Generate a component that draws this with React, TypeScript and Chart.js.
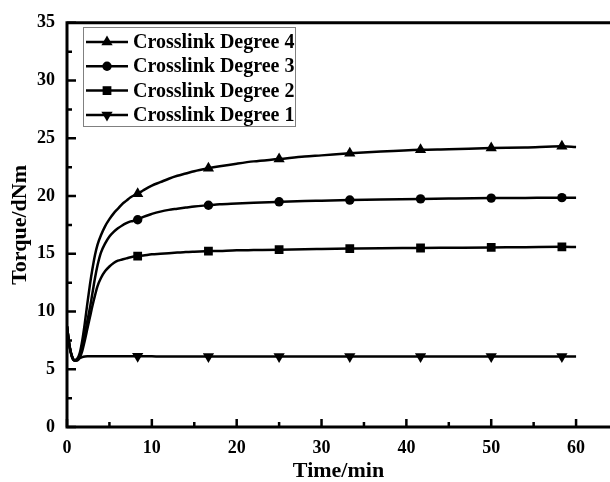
import React, { useEffect, useRef } from 'react';
import { Chart, registerables } from 'chart.js';
import { drawPoint } from 'chart.js/helpers';

Chart.register(...registerables);

const time = [0, 0.3, 0.6, 0.9, 1.2, 1.5, 1.8, 2.1, 2.4, 2.7, 3.0, 3.3, 3.6, 4.0, 4.5, 5.0, 5.5, 6.0, 6.5, 7.0, 7.5, 8.33, 9, 10, 11, 12, 13, 14, 15, 16.67, 18, 20, 22, 25, 28, 30, 33.33, 37, 41.67, 45, 50, 54, 58.33, 60];

const degree4 = [8.7, 7.0, 6.1, 5.8, 5.9, 6.4, 7.5, 9.0, 10.7, 12.3, 13.7, 14.9, 15.8, 16.6, 17.4, 18.0, 18.5, 18.9, 19.3, 19.6, 19.9, 20.2, 20.5, 20.9, 21.2, 21.5, 21.75, 21.95, 22.15, 22.4, 22.57, 22.8, 23.0, 23.2, 23.42, 23.52, 23.7, 23.85, 24.0, 24.05, 24.15, 24.2, 24.3, 24.25];
const degree3 = [8.7, 7.0, 6.1, 5.75, 5.8, 6.1, 6.9, 8.0, 9.2, 10.3, 11.6, 12.9, 14.0, 15.1, 15.9, 16.5, 16.9, 17.2, 17.45, 17.65, 17.8, 17.95, 18.2, 18.45, 18.65, 18.8, 18.9, 19.0, 19.1, 19.2, 19.28, 19.35, 19.42, 19.5, 19.57, 19.6, 19.65, 19.7, 19.75, 19.78, 19.82, 19.84, 19.86, 19.86];
const degree2 = [8.7, 7.0, 6.1, 5.75, 5.75, 6.0, 6.6, 7.5, 8.5, 9.5, 10.5, 11.4, 12.2, 12.9, 13.5, 13.9, 14.2, 14.4, 14.5, 14.6, 14.7, 14.8, 14.85, 14.95, 15.0, 15.05, 15.1, 15.15, 15.18, 15.22, 15.25, 15.3, 15.32, 15.35, 15.4, 15.42, 15.45, 15.48, 15.5, 15.52, 15.55, 15.57, 15.6, 15.58];
const degree1 = [8.7, 7.0, 6.0, 5.75, 5.8, 5.95, 6.05, 6.1, 6.12, 6.12, 6.12, 6.12, 6.12, 6.12, 6.12, 6.12, 6.12, 6.12, 6.12, 6.12, 6.12, 6.12, 6.12, 6.12, 6.11, 6.11, 6.11, 6.11, 6.11, 6.1, 6.1, 6.1, 6.1, 6.1, 6.1, 6.1, 6.1, 6.1, 6.1, 6.1, 6.1, 6.1, 6.1, 6.1];

const seriesLabels = ['Crosslink Degree 4', 'Crosslink Degree 3', 'Crosslink Degree 2', 'Crosslink Degree 1'];
const markerTimes = [8.33, 16.67, 25, 33.33, 41.67, 50, 58.33];
const xTicks = [0, 5, 10, 15, 20, 25, 30, 35, 40, 45, 50, 55, 60];
const yTicks = [0, 2.5, 5, 7.5, 10, 12.5, 15, 17.5, 20, 22.5, 25, 27.5, 30, 32.5, 35];
const xTitle = 'Time/min';
const yTitle = 'Torque/dNm';

const FONT = "'Liberation Serif', 'Times New Roman', serif";

const styles = [
  { pointStyle: 'triangle', rotation: 0, radius: 6.5 },
  { pointStyle: 'circle', rotation: 0, radius: 4.7 },
  { pointStyle: 'rect', rotation: 0, radius: 6.2 },
  { pointStyle: 'triangle', rotation: 180, radius: 6.5 },
];

const axesPlugin = {
  id: 'customAxes',
  afterDatasetsDraw(chart: any) {
    const { ctx, chartArea, scales } = chart;
    const { left, right, top, bottom } = chartArea;
    const xs = scales.x;
    const ys = scales.y;
    ctx.save();
    ctx.strokeStyle = '#000';
    ctx.lineWidth = 3;
    ctx.lineCap = 'butt';
    ctx.beginPath();
    ctx.moveTo(left, top - 1.5);
    ctx.lineTo(left, bottom + 1.5);
    ctx.moveTo(left - 1.5, bottom);
    ctx.lineTo(right, bottom);
    ctx.moveTo(left - 1.5, top);
    ctx.lineTo(right, top);
    ctx.stroke();

    ctx.lineWidth = 2.5;
    ctx.beginPath();
    xTicks.forEach((v) => {
      const px = xs.getPixelForValue(v);
      const len = v % 10 === 0 ? 8 : 5;
      ctx.moveTo(px, bottom);
      ctx.lineTo(px, bottom - len);
    });
    yTicks.forEach((v) => {
      const py = ys.getPixelForValue(v);
      const len = v % 5 === 0 ? 9 : 5;
      ctx.moveTo(left, py);
      ctx.lineTo(left + len, py);
    });
    ctx.stroke();

    // titles
    ctx.fillStyle = '#000';
    ctx.font = `bold 22px ${FONT}`;
    ctx.textAlign = 'center';
    ctx.textBaseline = 'middle';
    ctx.fillText(xTitle, (left + right) / 2, 471);
    ctx.save();
    ctx.translate(20, (top + bottom) / 2);
    ctx.rotate(-Math.PI / 2);
    ctx.fillText(yTitle, 0, 0);
    ctx.restore();

    // legend
    const bx = 83.5, by = 27.5, bw = 212, bh = 99;
    ctx.strokeStyle = '#808080';
    ctx.lineWidth = 1;
    ctx.strokeRect(bx, by, bw, bh);
    chart.data.datasets.forEach((ds: any, i: number) => {
      const ry = 42 + i * 24.3;
      ctx.strokeStyle = '#000';
      ctx.lineWidth = 2.5;
      ctx.beginPath();
      ctx.moveTo(86, ry);
      ctx.lineTo(128, ry);
      ctx.stroke();
      ctx.fillStyle = '#000';
      drawPoint(ctx, { pointStyle: styles[i].pointStyle, rotation: styles[i].rotation, radius: styles[i].radius, borderWidth: 0 } as any, 107, ry);
      ctx.fillStyle = '#000';
      ctx.font = `bold 20px ${FONT}`;
      ctx.textAlign = 'left';
      ctx.textBaseline = 'middle';
      ctx.fillText(ds.label, 133, ry + 1);
    });
    ctx.restore();
  },
};

export default function App() {
  const canvasRef = useRef<HTMLCanvasElement | null>(null);
  useEffect(() => {
    if (!canvasRef.current) return;
    const all = [degree4, degree3, degree2, degree1];
    const chart = new Chart(canvasRef.current, {
      type: 'line',
      data: {
        datasets: all.map((vals, i) => ({
          label: seriesLabels[i],
          data: time.map((t, j) => ({ x: t, y: vals[j] })),
          borderColor: '#000',
          backgroundColor: '#000',
          borderWidth: 2.5,
          pointStyle: styles[i].pointStyle as any,
          rotation: styles[i].rotation,
          pointRadius: (c: any) => (markerTimes.includes(time[c.dataIndex]) ? styles[i].radius : 0),
          pointHoverRadius: 0,
          pointBackgroundColor: '#000',
          pointBorderColor: '#000',
          pointBorderWidth: 0,
          cubicInterpolationMode: 'monotone' as const,
          fill: false,
        })),
      },
      options: {
        responsive: false,
        animation: false,
        devicePixelRatio: 1,
        layout: { padding: { top: 21, right: 0, left: 0, bottom: 0 } },
        plugins: { legend: { display: false }, tooltip: { enabled: false } },
        scales: {
          x: {
            type: 'linear',
            min: 0,
            max: 64,
            afterBuildTicks: (s: any) => {
              s.ticks = xTicks.map((v) => ({ value: v }));
            },
            afterFit: (s: any) => {
              s.height = 55;
            },
            grid: { display: false, drawTicks: false },
            border: { display: false },
            ticks: {
              autoSkip: false,
              maxRotation: 0,
              padding: 11,
              color: '#000',
              font: { family: FONT, size: 18, weight: 'bold' },
              callback: (v: any) => (Number(v) % 10 === 0 ? String(v) : ''),
            },
          },
          y: {
            type: 'linear',
            min: 0,
            max: 35,
            afterBuildTicks: (s: any) => {
              s.ticks = yTicks.map((v) => ({ value: v }));
            },
            afterFit: (s: any) => {
              s.width = 67;
            },
            grid: { display: false, drawTicks: false },
            border: { display: false },
            ticks: {
              autoSkip: false,
              padding: 12,
              color: '#000',
              font: { family: FONT, size: 18, weight: 'bold' },
              callback: (v: any) => (Number(v) % 5 === 0 ? String(v) : ''),
            },
          },
        },
      },
      plugins: [axesPlugin],
    });
    return () => chart.destroy();
  }, []);
  return (
    <div style={{ position: 'absolute', left: 0, top: 0, width: 610, height: 482, background: '#fff' }}>
      <canvas ref={canvasRef} width={610} height={482} style={{ display: 'block' }} />
    </div>
  );
}
